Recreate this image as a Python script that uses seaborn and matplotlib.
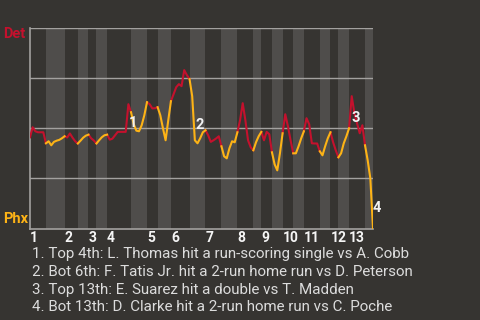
import matplotlib
matplotlib.use("Agg")
import matplotlib.pyplot as plt
import seaborn as sns
import pandas as pd
import numpy as np

plt.rcParams['font.family'] = ['Roboto', 'DejaVu Sans']

# ---- data ----
teams = ["Det", "Phx"]
team_colors = {"Det": "#c4112d", "Phx": "#fdb316"}
# plays per half-inning (top, bottom alternating), 13 innings
plays_per_half = [6, 7, 5, 4, 3, 4, 9, 6, 4, 5, 7, 6, 6, 6, 6, 3,
                  4, 4, 4, 4, 6, 4, 3, 4, 6, 3]
inning_labels = [str(i) for i in range(1, 14)]
# Detroit win probability after each play (first value = pre-game)
det_wp = [0.455,
          0.505, 0.485, 0.48, 0.48, 0.48, 0.425,
          0.435, 0.415, 0.432, 0.438, 0.442, 0.45, 0.46,
          0.454, 0.474, 0.453, 0.435, 0.424,
          0.438, 0.453, 0.463, 0.468,
          0.45, 0.439, 0.424,
          0.44, 0.455, 0.465, 0.468,
          0.443, 0.448, 0.465, 0.482, 0.482, 0.482, 0.482, 0.62, 0.58,
          0.52, 0.488, 0.485, 0.515, 0.565, 0.63,
          0.62, 0.599, 0.60, 0.605,
          0.565, 0.50, 0.44, 0.54, 0.635,
          0.67, 0.705, 0.72, 0.71, 0.79, 0.765, 0.745,
          0.66, 0.44, 0.425, 0.45, 0.48, 0.49,
          0.465, 0.432, 0.44, 0.449, 0.46, 0.41,
          0.36, 0.35, 0.40, 0.435, 0.43, 0.48,
          0.54, 0.625, 0.54, 0.44, 0.405, 0.39,
          0.43, 0.46, 0.482,
          0.44, 0.482, 0.47, 0.38,
          0.32, 0.29, 0.375, 0.475,
          0.57, 0.51, 0.44, 0.375,
          0.375, 0.41, 0.45, 0.485,
          0.55, 0.52, 0.425, 0.424, 0.424, 0.385,
          0.365, 0.41, 0.45, 0.48,
          0.43, 0.39, 0.355,
          0.375, 0.425, 0.46, 0.50,
          0.66, 0.575, 0.525, 0.475, 0.515, 0.415,
          0.34, 0.25, 0.0]
event_plays = [37, 62, 121, 129]
event_labels = ["1", "2", "3", "4"]
event_offsets = [(5, -19), (5, 15), (4, -22), (4, 21)]
footer_lines = [
    "1. Top 4th: L. Thomas hit a run-scoring single vs A. Cobb",
    "2. Bot 6th: F. Tatis Jr. hit a 2-run home run vs D. Peterson",
    "3. Top 13th: E. Suarez hit a double vs T. Madden",
    "4. Bot 13th: D. Clarke hit a 2-run home run vs C. Poche",
]

# ---- build segments ----
bounds = np.concatenate([[0], np.cumsum(plays_per_half)])
rows = []
for h in range(len(plays_per_half)):
    team = "Det" if h % 2 == 0 else "Phx"
    for p in range(bounds[h], bounds[h + 1] + 1):
        rows.append({"play": p, "wp": det_wp[p], "team": team, "seg": h})
df = pd.DataFrame(rows)

bg = "#363431"
band = "#4f4d4b"
grid_c = "#a3a19f"

fig = plt.figure(figsize=(4.8, 3.2), dpi=100)
fig.patch.set_facecolor(bg)
ax = fig.add_axes([30 / 480, (320 - 228.5) / 320, 343 / 480, 200.5 / 320])
ax.set_facecolor(bg)

for h in range(1, len(plays_per_half), 2):
    ax.axvspan(bounds[h], bounds[h + 1], color=band, lw=0, zorder=0)

for v in [0.25, 0.5, 0.75, 1.0]:
    ax.axhline(v, color=grid_c, lw=1.0, zorder=1)

sns.lineplot(data=df, x="play", y="wp", hue="team", units="seg",
             estimator=None, palette=team_colors, lw=1.5, legend=False,
             sort=False, ax=ax, zorder=3)

ax.set_xlim(0, bounds[-1])
ax.set_ylim(0, 1)
ax.set_xticks([])
ax.set_yticks([])
ax.set_xlabel("")
ax.set_ylabel("")
for s in ["top", "right"]:
    ax.spines[s].set_visible(False)
for s in ["left", "bottom"]:
    ax.spines[s].set_color(grid_c)
    ax.spines[s].set_linewidth(1.2)

for p, lab, off in zip(event_plays, event_labels, event_offsets):
    ax.annotate(lab, (p, det_wp[p]), xytext=off, textcoords="offset pixels",
                ha="center", va="center", color="#f2f2f2", fontsize=10.5,
                fontweight="bold", zorder=5)

# inning labels at start of each inning
for k, lab in enumerate(inning_labels):
    ax.text(bounds[2 * k], -0.012, lab, ha="left", va="top", color="#f5f5f5",
            fontsize=10, fontweight="bold", transform=ax.get_xaxis_transform())

fig.text(3 / 480, 1 - 34 / 320, teams[0], color=team_colors["Det"],
         fontsize=10.5, fontweight="bold", ha="left", va="center")
fig.text(3 / 480, 1 - 219 / 320, teams[1], color=team_colors["Phx"],
         fontsize=10.5, fontweight="bold", ha="left", va="center")

for j, line in enumerate(footer_lines):
    fig.text(32 / 480, 1 - (254 + 17.8 * j) / 320, line, color="#dcdcdc",
             fontsize=10.9, ha="left", va="center")

fig.savefig("out.png", dpi=100, facecolor=bg)
